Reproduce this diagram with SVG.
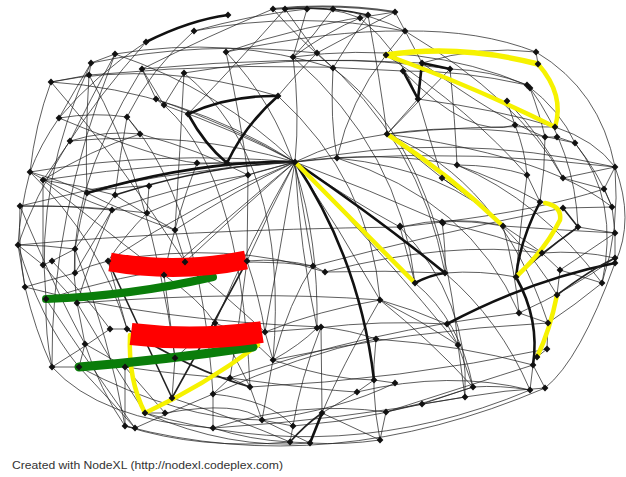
<svg xmlns="http://www.w3.org/2000/svg" xmlns:xlink="http://www.w3.org/1999/xlink" width="626" height="477" viewBox="0 0 626 477">
<style>
.e{fill:none;stroke:#1e1e1e;stroke-width:0.85;stroke-opacity:0.85}
.t{fill:none;stroke:#111;stroke-width:2.6}
.m{fill:none;stroke:#222;stroke-width:1.6}
.y{fill:none;stroke:#f6f200;stroke-width:4.5;stroke-linecap:round}
.r{fill:none;stroke:#ff0000;stroke-linecap:butt}
.g{fill:none;stroke:#0a7d0a;stroke-linecap:round}
.n{fill:#111}
text{font-family:"Liberation Sans",Arial,sans-serif;font-size:11px;fill:#333}
</style>
<defs>
<path id="d" d="M0 -3.4L3.4 0 0 3.4-3.4 0Z"/>
</defs>
<rect width="626" height="477" fill="#fff"/>
<g id="connectors">
<g id="thin">
<path class="e" d="M194 31Q300 10 405 31"/>
<path class="e" d="M285 9Q330 5 360 18"/>
<path class="e" d="M333 9Q375 15 405 31"/>
<path class="e" d="M307 9L293 57"/>
<path class="e" d="M273 9Q300 40 333 68"/>
<path class="e" d="M285 9Q300 30 317 53"/>
<path class="e" d="M360 18Q330 30 293 57"/>
<path class="e" d="M368 15Q350 40 333 68"/>
<path class="e" d="M395 12Q360 30 317 53"/>
<path class="e" d="M333 9Q315 35 293 57"/>
<path class="e" d="M333 68Q330 120 337 158"/>
<path class="e" d="M293 57Q300 110 295 162"/>
<path class="e" d="M317 53Q300 70 278 96"/>
<path class="e" d="M405 31Q480 30 536 52"/>
<path class="e" d="M395 12Q300 25 226 52"/>
<path class="e" d="M307 9Q250 15 194 31"/>
<path class="e" d="M273 9Q210 35 142 69"/>
<path class="e" d="M285 9Q240 60 188 114"/>
<path class="e" d="M368 15Q380 80 387 134"/>
<path class="e" d="M360 18Q400 50 418 99"/>
<path class="e" d="M293 57Q420 40 527 85"/>
<path class="e" d="M115 54Q230 35 333 68"/>
<path class="e" d="M91 63Q200 40 317 53"/>
<path class="e" d="M51 82Q160 60 278 96"/>
<path class="e" d="M184 73Q320 50 450 69"/>
<path class="e" d="M89 75Q250 60 403 71"/>
<path class="e" d="M142 69Q290 55 422 63"/>
<path class="e" d="M226 52Q330 30 405 31"/>
<path class="e" d="M115 54L91 63"/>
<path class="e" d="M91 63L89 75"/>
<path class="e" d="M89 75L51 82"/>
<path class="e" d="M91 63Q75 90 59 118"/>
<path class="e" d="M115 54Q90 100 70 141"/>
<path class="e" d="M89 75Q85 140 87 193"/>
<path class="e" d="M59 118Q95 112 127 117"/>
<path class="e" d="M127 117L140 134"/>
<path class="e" d="M70 141Q105 130 140 134"/>
<path class="e" d="M59 118Q40 145 30 172"/>
<path class="e" d="M70 141L43 180"/>
<path class="e" d="M30 172Q60 180 87 193"/>
<path class="e" d="M43 180Q80 185 115 195"/>
<path class="e" d="M30 172Q70 195 112 210"/>
<path class="e" d="M20 206Q65 205 112 210"/>
<path class="e" d="M20 206Q85 205 147 213"/>
<path class="e" d="M149 186Q120 186 87 193"/>
<path class="e" d="M149 186L147 213"/>
<path class="e" d="M87 193Q130 215 175 230"/>
<path class="e" d="M115 195Q145 215 175 230"/>
<path class="e" d="M140 134Q90 150 43 180"/>
<path class="e" d="M127 117Q120 155 115 195"/>
<path class="e" d="M142 69L164 105"/>
<path class="e" d="M184 73L164 105"/>
<path class="e" d="M142 69L156 99"/>
<path class="e" d="M156 99Q230 125 295 162"/>
<path class="e" d="M164 105Q235 130 295 162"/>
<path class="e" d="M226 52Q240 115 248 175"/>
<path class="e" d="M184 73Q180 150 175 230"/>
<path class="e" d="M194 31Q150 70 127 117"/>
<path class="e" d="M146 42Q95 75 59 118"/>
<path class="e" d="M51 82Q35 125 30 172"/>
<path class="e" d="M51 82Q180 90 295 162"/>
<path class="e" d="M115 54Q220 90 295 162"/>
<path class="e" d="M70 141Q190 130 295 162"/>
<path class="e" d="M140 134Q200 150 248 175"/>
<path class="e" d="M30 172Q160 150 295 162"/>
<path class="e" d="M43 180Q170 160 295 162"/>
<path class="e" d="M20 206Q160 170 295 162"/>
<path class="e" d="M147 213Q220 180 295 162"/>
<path class="e" d="M175 230Q235 190 295 162"/>
<path class="e" d="M112 210Q180 185 248 175"/>
<path class="e" d="M227 163L197 163"/>
<path class="e" d="M295 162L248 175"/>
<path class="e" d="M295 162L337 158"/>
<path class="e" d="M295 162Q380 150 457 165"/>
<path class="e" d="M295 162Q450 130 615 167"/>
<path class="e" d="M295 162Q340 140 387 134"/>
<path class="e" d="M295 162Q370 190 442 222"/>
<path class="e" d="M295 162Q350 200 400 227"/>
<path class="e" d="M295 162Q340 230 380 300"/>
<path class="e" d="M295 162L313 266"/>
<path class="e" d="M295 162Q300 250 317 328"/>
<path class="e" d="M295 162Q390 260 458 345"/>
<path class="e" d="M295 162Q270 210 247 261"/>
<path class="e" d="M295 162Q240 210 185 262"/>
<path class="e" d="M295 162Q230 215 164 275"/>
<path class="e" d="M295 162Q200 200 108 261"/>
<path class="e" d="M295 162Q250 240 215 323"/>
<path class="e" d="M295 162Q280 250 265 332"/>
<path class="e" d="M403 71Q460 70 527 85"/>
<path class="e" d="M450 69Q490 70 527 85"/>
<path class="e" d="M536 52L538 64"/>
<path class="e" d="M527 85L530 88"/>
<path class="e" d="M530 88Q540 115 545 137"/>
<path class="e" d="M527 85Q560 110 575 143"/>
<path class="e" d="M507 101L515 125"/>
<path class="e" d="M545 137L557 137"/>
<path class="e" d="M557 137L575 143"/>
<path class="e" d="M387 134Q480 120 575 143"/>
<path class="e" d="M387 134Q470 125 555 127"/>
<path class="e" d="M387 134L418 99"/>
<path class="e" d="M387 134Q420 100 450 69"/>
<path class="e" d="M387 134L442 178"/>
<path class="e" d="M418 99Q430 140 442 178"/>
<path class="e" d="M450 69Q455 120 457 165"/>
<path class="e" d="M337 158Q480 150 615 167"/>
<path class="e" d="M457 165Q495 165 527 175"/>
<path class="e" d="M457 165Q500 180 540 202"/>
<path class="e" d="M442 178Q475 200 503 226"/>
<path class="e" d="M527 175L540 202"/>
<path class="e" d="M563 178L615 167"/>
<path class="e" d="M563 178L604 189"/>
<path class="e" d="M615 167L604 189"/>
<path class="e" d="M604 189L612 207"/>
<path class="e" d="M563 208L612 207"/>
<path class="e" d="M612 207L615 233"/>
<path class="e" d="M578 227L615 233"/>
<path class="e" d="M515 125Q525 150 527 175"/>
<path class="e" d="M507 101Q545 140 563 178"/>
<path class="e" d="M555 127Q595 140 615 167"/>
<path class="e" d="M575 143Q600 175 612 207"/>
<path class="e" d="M545 137Q545 170 540 202"/>
<path class="e" d="M530 88Q575 150 578 227"/>
<path class="e" d="M386 55Q350 100 337 158"/>
<path class="e" d="M405 31L386 55"/>
<path class="e" d="M395 12Q410 40 422 63"/>
<path class="e" d="M422 63Q480 45 536 52"/>
<path class="e" d="M442 222Q470 220 503 226"/>
<path class="e" d="M400 227L442 222"/>
<path class="e" d="M400 227L415 283"/>
<path class="e" d="M442 222Q446 250 445 273"/>
<path class="e" d="M443 223Q500 235 542 253"/>
<path class="e" d="M503 226Q515 270 519 313"/>
<path class="e" d="M400 227Q450 215 502 225"/>
<path class="e" d="M527 175Q520 230 516 277"/>
<path class="e" d="M615 258L615 263"/>
<path class="e" d="M602 283L560 270"/>
<path class="e" d="M542 253L560 270"/>
<path class="e" d="M542 253Q580 250 615 258"/>
<path class="e" d="M560 270L557 295"/>
<path class="e" d="M519 313L548 323"/>
<path class="e" d="M548 323L547 349"/>
<path class="e" d="M547 349L537 357"/>
<path class="e" d="M533 365L530 390"/>
<path class="e" d="M533 365L545 388"/>
<path class="e" d="M445 273Q480 270 516 277"/>
<path class="e" d="M325 272Q385 270 445 273"/>
<path class="e" d="M313 266L325 272"/>
<path class="e" d="M380 300Q415 310 447 324"/>
<path class="e" d="M380 300Q420 320 458 345"/>
<path class="e" d="M380 300Q430 340 473 387"/>
<path class="e" d="M447 324L458 345"/>
<path class="e" d="M376 339Q460 345 533 365"/>
<path class="e" d="M321 327Q350 330 376 339"/>
<path class="e" d="M458 345L465 397"/>
<path class="e" d="M458 345L473 387"/>
<path class="e" d="M374 380L395 383"/>
<path class="e" d="M357 392L374 380"/>
<path class="e" d="M357 392Q450 370 530 390"/>
<path class="e" d="M473 387Q500 385 530 390"/>
<path class="e" d="M465 397Q505 390 545 388"/>
<path class="e" d="M422 404L473 387"/>
<path class="e" d="M422 404L465 397"/>
<path class="e" d="M386 412L422 404"/>
<path class="e" d="M386 412Q470 385 533 365"/>
<path class="e" d="M322 413L357 392"/>
<path class="e" d="M380 440L322 413"/>
<path class="e" d="M380 440L386 412"/>
<path class="e" d="M321 327L322 413"/>
<path class="e" d="M615 258Q570 290 519 313"/>
<path class="e" d="M602 283Q575 305 548 323"/>
<path class="e" d="M615 233L615 263"/>
<path class="e" d="M578 227L542 253"/>
<path class="e" d="M615 233Q590 250 560 270"/>
<path class="e" d="M502 225Q525 240 542 253"/>
<path class="e" d="M615 167Q620 230 602 283"/>
<path class="e" d="M563 178Q590 190 612 207"/>
<path class="e" d="M145 413Q340 470 530 390"/>
<path class="e" d="M125 426Q330 480 545 388"/>
<path class="e" d="M213 428Q340 420 465 397"/>
<path class="e" d="M293 426Q380 420 473 387"/>
<path class="e" d="M250 387Q400 380 547 349"/>
<path class="e" d="M273 360Q410 330 548 323"/>
<path class="e" d="M230 378Q370 330 519 313"/>
<path class="e" d="M265 332Q320 310 380 300"/>
<path class="e" d="M317 328Q380 320 447 324"/>
<path class="e" d="M213 394Q300 355 376 339"/>
<path class="e" d="M18 245Q45 245 75 249"/>
<path class="e" d="M18 245L43 265"/>
<path class="e" d="M18 245L25 287"/>
<path class="e" d="M43 265L52 261"/>
<path class="e" d="M52 261L75 249"/>
<path class="e" d="M75 249L75 273"/>
<path class="e" d="M75 273Q90 265 108 261"/>
<path class="e" d="M25 287Q50 280 75 273"/>
<path class="e" d="M43 265Q60 285 77 303"/>
<path class="e" d="M77 303L85 344"/>
<path class="e" d="M110 329L127 329"/>
<path class="e" d="M110 329Q80 350 52 367"/>
<path class="e" d="M85 344L79 367"/>
<path class="e" d="M85 344Q105 355 125 367"/>
<path class="e" d="M172 398L175 358"/>
<path class="e" d="M175 358Q195 340 215 323"/>
<path class="e" d="M125 367Q145 390 165 413"/>
<path class="e" d="M165 413L145 413"/>
<path class="e" d="M125 426L135 428"/>
<path class="e" d="M125 426L125 367"/>
<path class="e" d="M135 428Q175 410 213 394"/>
<path class="e" d="M213 394L230 378"/>
<path class="e" d="M230 378L250 387"/>
<path class="e" d="M250 387Q235 355 215 323"/>
<path class="e" d="M213 428L213 394"/>
<path class="e" d="M262 420L293 426"/>
<path class="e" d="M293 426L290 442"/>
<path class="e" d="M290 442L310 443"/>
<path class="e" d="M262 420L273 360"/>
<path class="e" d="M273 360L265 332"/>
<path class="e" d="M265 332L317 328"/>
<path class="e" d="M317 328Q300 345 273 360"/>
<path class="e" d="M313 266Q280 258 247 261"/>
<path class="e" d="M52 367L79 367"/>
<path class="e" d="M52 367Q35 330 25 287"/>
<path class="e" d="M46 299Q45 335 52 367"/>
<path class="e" d="M77 303Q110 360 145 413"/>
<path class="e" d="M85 344Q100 390 125 426"/>
<path class="e" d="M164 275L185 262"/>
<path class="e" d="M164 275Q170 320 175 358"/>
<path class="e" d="M52 261Q85 295 110 329"/>
<path class="e" d="M75 249Q80 220 87 193"/>
<path class="e" d="M75 273Q95 240 112 210"/>
<path class="e" d="M43 180L43 265"/>
<path class="e" d="M30 172Q20 210 18 245"/>
<path class="e" d="M20 206Q18 250 25 287"/>
<path class="e" d="M175 230L185 262"/>
<path class="e" d="M147 213Q125 235 108 261"/>
<path class="e" d="M248 175L247 261"/>
<path class="e" d="M197 163Q175 220 164 275"/>
<path class="e" d="M115 195Q95 220 75 249"/>
<path class="e" d="M112 210Q90 260 77 303"/>
<path class="e" d="M247 261Q260 300 265 332"/>
<path class="e" d="M215 323Q250 335 273 360"/>
<path class="e" d="M125 367Q180 375 230 378"/>
<path class="e" d="M79 367Q110 400 135 428"/>
<path class="e" d="M250 387L262 420"/>
<path class="e" d="M262 420L310 443"/>
<path class="e" d="M310 443Q345 445 380 440"/>
<path class="e" d="M290 442Q250 440 213 428"/>
<path class="e" d="M125 426Q200 450 290 442"/>
<path class="e" d="M145 413Q230 450 310 443"/>
<path class="e" d="M91 63Q35 180 46 299"/>
<path class="e" d="M146 42Q50 150 18 245"/>
<path class="e" d="M142 69Q60 200 77 303"/>
<path class="e" d="M115 54Q50 220 52 367"/>
<path class="e" d="M536 52Q600 90 615 167"/>
<path class="e" d="M615 167Q635 220 615 263"/>
<path class="e" d="M575 143Q620 200 602 283"/>
<path class="e" d="M615 263Q580 360 545 388"/>
<path class="e" d="M127 329L108 261"/>
<path class="e" d="M164 275Q200 300 215 323"/>
<path class="e" d="M185 262Q230 300 265 332"/>
<path class="e" d="M247 261Q240 320 230 378"/>
<path class="e" d="M313 266Q290 300 273 360"/>
<path class="e" d="M321 327Q300 380 293 426"/>
<path class="e" d="M380 300Q340 370 322 413"/>
<path class="e" d="M376 339Q370 390 380 440"/>
<path class="e" d="M415 283Q460 320 473 387"/>
<path class="e" d="M445 273Q500 320 530 390"/>
<path class="e" d="M400 227Q470 300 465 397"/>
<path class="e" d="M442 178Q520 230 557 295"/>
<path class="e" d="M457 165Q540 200 602 283"/>
<path class="e" d="M387 134Q500 180 548 323"/>
<path class="e" d="M337 158Q470 200 519 313"/>
<path class="e" d="M503 226Q560 230 615 233"/>
<path class="e" d="M442 222Q540 210 604 189"/>
<path class="e" d="M325 272Q450 240 542 253"/>
<path class="e" d="M313 266Q450 230 563 208"/>
<path class="e" d="M108 261Q230 240 325 272"/>
<path class="e" d="M46 299Q200 250 313 266"/>
<path class="e" d="M77 303Q250 290 380 300"/>
<path class="e" d="M18 245Q180 230 400 227"/>
<path class="e" d="M25 287Q150 320 321 327"/>
<path class="e" d="M59 118Q160 160 197 163"/>
<path class="e" d="M43 180Q130 250 164 275"/>
<path class="e" d="M30 172Q100 240 127 329"/>
<path class="e" d="M51 82Q120 160 185 262"/>
<path class="e" d="M89 75Q150 180 175 358"/>
<path class="e" d="M127 117Q200 200 213 394"/>
<path class="e" d="M156 99Q240 160 250 387"/>
<path class="e" d="M184 73Q290 160 273 360"/>
<path class="e" d="M226 52Q320 150 317 328"/>
<path class="e" d="M278 96Q370 180 380 300"/>
<path class="e" d="M317 53Q420 140 445 273"/>
<path class="e" d="M333 68Q440 150 458 345"/>
<path class="e" d="M293 57Q400 150 415 283"/>
<path class="e" d="M405 31Q520 100 563 178"/>
<path class="e" d="M386 55Q470 110 527 175"/>
<path class="e" d="M422 63Q500 120 545 137"/>
<path class="e" d="M418 99Q500 110 555 127"/>
<path class="e" d="M403 71Q470 140 515 125"/>
<path class="e" d="M387 134Q500 150 563 178"/>
<path class="e" d="M337 158Q450 170 503 226"/>
<path class="e" d="M20 206Q60 300 85 344"/>
<path class="e" d="M18 245Q40 320 79 367"/>
<path class="e" d="M75 249Q110 340 125 426"/>
<path class="e" d="M46 299Q100 380 135 428"/>
<path class="e" d="M52 367Q100 420 213 428"/>
<path class="e" d="M79 367Q180 420 262 420"/>
<path class="e" d="M172 398Q240 420 290 442"/>
<path class="e" d="M165 413Q240 400 262 420"/>
<path class="e" d="M213 394Q270 400 293 426"/>
<path class="e" d="M230 378Q320 390 357 392"/>
<path class="e" d="M273 360Q330 380 374 380"/>
<path class="e" d="M213 428Q300 400 386 412"/>
<path class="e" d="M262 420Q340 410 395 383"/>
</g>
<g id="thick">
<path class="t" d="M146 42Q190 20 228 15"/>
<path class="t" d="M273 9Q335 3 395 12" style="stroke:#555;stroke-width:2"/>
<path class="m" d="M285 9Q330 6 368 15"/>
<path class="t" d="M188 114Q230 95 278 96"/>
<path class="t" d="M188 114Q205 145 227 163"/>
<path class="t" d="M227 163Q245 125 278 96"/>
<path class="t" d="M87 193Q200 160 295 162"/>
<path class="m" d="M115 195Q210 165 295 162"/>
<path class="t" d="M295 162Q360 260 374 380"/>
<path class="t" d="M295 162Q380 220 445 273"/>
<path class="t" d="M415 283Q430 275 445 273"/>
<path class="t" d="M615 263Q530 280 447 324"/>
<path class="t" d="M540 202Q520 240 516 277"/>
<path class="t" d="M516 277Q540 320 533 365"/>
<path class="m" d="M563 208L578 227Q545 250 516 277"/>
<path class="t" d="M422 63L418 99"/>
<path class="t" d="M403 71L418 99"/>
<path class="t" d="M422 63L450 69"/>
<path class="m" d="M108 261Q140 330 172 398"/>
<path class="m" d="M247 261Q210 330 172 398"/>
<path class="m" d="M127 329Q190 370 250 387"/>
<path class="t" d="M310 443L322 413"/>
<path class="m" d="M290 442Q305 425 322 413"/>
<path class="m" d="M557 295Q590 270 615 258"/>
</g>
<g id="colored">
<path class="y" d="M386 55Q460 44 538 64" style="stroke-width:5.5"/>
<path class="y" d="M386 55Q470 85 555 127"/>
<path class="y" d="M538 64Q565 95 555 127"/>
<path class="y" d="M387 134Q450 175 503 226"/>
<path class="y" d="M297 164Q360 228 413 281"/>
<path class="y" d="M545 203Q562 206 560 220Q545 250 516 277"/>
<path class="y" d="M557 295Q550 330 537 357"/>
<path class="y" d="M130 335Q128 380 145 413"/>
<path class="y" d="M145 413Q205 385 258 345"/>
<path class="g" d="M46 299Q130 296 213 277" style="stroke-width:8"/>
<path class="g" d="M79 367Q165 360 253 347" style="stroke-width:9"/>
<path class="r" d="M110 262Q178 274 246 260" style="stroke-width:19"/>
<path class="r" d="M131 334Q197 342 262 332" style="stroke-width:22"/>
</g>
</g>
<g id="nodes" class="n">
<g id="A1"><use xlink:href="#d" x="228" y="15"/></g>
<g id="A2"><use xlink:href="#d" x="194" y="31"/></g>
<g id="A3"><use xlink:href="#d" x="146" y="42"/></g>
<g id="A4"><use xlink:href="#d" x="226" y="52"/></g>
<g id="A5"><use xlink:href="#d" x="115" y="54"/></g>
<g id="A6"><use xlink:href="#d" x="91" y="63"/></g>
<g id="A7"><use xlink:href="#d" x="89" y="75"/></g>
<g id="A8"><use xlink:href="#d" x="142" y="69"/></g>
<g id="A9"><use xlink:href="#d" x="184" y="73"/></g>
<g id="A10"><use xlink:href="#d" x="51" y="82"/></g>
<g id="A11"><use xlink:href="#d" x="156" y="99"/></g>
<g id="A12"><use xlink:href="#d" x="164" y="105"/></g>
<g id="A13"><use xlink:href="#d" x="188" y="114"/></g>
<g id="A14"><use xlink:href="#d" x="278" y="96"/></g>
<g id="A15"><use xlink:href="#d" x="59" y="118"/></g>
<g id="A16"><use xlink:href="#d" x="127" y="117"/></g>
<g id="A17"><use xlink:href="#d" x="140" y="134"/></g>
<g id="A18"><use xlink:href="#d" x="70" y="141"/></g>
<g id="A19"><use xlink:href="#d" x="197" y="163"/></g>
<g id="A20"><use xlink:href="#d" x="227" y="163"/></g>
<g id="H"><use xlink:href="#d" x="295" y="162"/></g>
<g id="A22"><use xlink:href="#d" x="30" y="172"/></g>
<g id="A23"><use xlink:href="#d" x="43" y="180"/></g>
<g id="A24"><use xlink:href="#d" x="248" y="175"/></g>
<g id="A25"><use xlink:href="#d" x="149" y="186"/></g>
<g id="A26"><use xlink:href="#d" x="87" y="193"/></g>
<g id="A27"><use xlink:href="#d" x="115" y="195"/></g>
<g id="A28"><use xlink:href="#d" x="20" y="206"/></g>
<g id="A29"><use xlink:href="#d" x="112" y="210"/></g>
<g id="A30"><use xlink:href="#d" x="147" y="213"/></g>
<g id="A31"><use xlink:href="#d" x="175" y="230"/></g>
<g id="T1"><use xlink:href="#d" x="273" y="9"/></g>
<g id="T2"><use xlink:href="#d" x="285" y="9"/></g>
<g id="T3"><use xlink:href="#d" x="307" y="9"/></g>
<g id="T4"><use xlink:href="#d" x="333" y="9"/></g>
<g id="T5"><use xlink:href="#d" x="360" y="18"/></g>
<g id="T6"><use xlink:href="#d" x="368" y="15"/></g>
<g id="T7"><use xlink:href="#d" x="395" y="12"/></g>
<g id="T8"><use xlink:href="#d" x="405" y="31"/></g>
<g id="T9"><use xlink:href="#d" x="293" y="57"/></g>
<g id="T10"><use xlink:href="#d" x="317" y="53"/></g>
<g id="T11"><use xlink:href="#d" x="333" y="68"/></g>
<g id="R1"><use xlink:href="#d" x="386" y="55"/></g>
<g id="R2"><use xlink:href="#d" x="422" y="63"/></g>
<g id="R3"><use xlink:href="#d" x="403" y="71"/></g>
<g id="R4"><use xlink:href="#d" x="450" y="69"/></g>
<g id="R5"><use xlink:href="#d" x="418" y="99"/></g>
<g id="R6"><use xlink:href="#d" x="536" y="52"/></g>
<g id="R7"><use xlink:href="#d" x="538" y="64"/></g>
<g id="R8"><use xlink:href="#d" x="527" y="85"/></g>
<g id="R9"><use xlink:href="#d" x="530" y="88"/></g>
<g id="R10"><use xlink:href="#d" x="507" y="101"/></g>
<g id="R11"><use xlink:href="#d" x="515" y="125"/></g>
<g id="R12"><use xlink:href="#d" x="555" y="127"/></g>
<g id="R13"><use xlink:href="#d" x="545" y="137"/></g>
<g id="R14"><use xlink:href="#d" x="557" y="137"/></g>
<g id="R15"><use xlink:href="#d" x="575" y="143"/></g>
<g id="R16"><use xlink:href="#d" x="387" y="134"/></g>
<g id="R17"><use xlink:href="#d" x="337" y="158"/></g>
<g id="R18"><use xlink:href="#d" x="457" y="165"/></g>
<g id="R19"><use xlink:href="#d" x="442" y="178"/></g>
<g id="R20"><use xlink:href="#d" x="527" y="175"/></g>
<g id="R21"><use xlink:href="#d" x="563" y="178"/></g>
<g id="R22"><use xlink:href="#d" x="615" y="167"/></g>
<g id="R23"><use xlink:href="#d" x="604" y="189"/></g>
<g id="R24"><use xlink:href="#d" x="540" y="202"/></g>
<g id="R25"><use xlink:href="#d" x="563" y="208"/></g>
<g id="R26"><use xlink:href="#d" x="612" y="207"/></g>
<g id="R27"><use xlink:href="#d" x="503" y="226"/></g>
<g id="R28"><use xlink:href="#d" x="442" y="222"/></g>
<g id="R29"><use xlink:href="#d" x="400" y="227"/></g>
<g id="R30"><use xlink:href="#d" x="615" y="233"/></g>
<g id="R31"><use xlink:href="#d" x="578" y="227"/></g>
<g id="L1"><use xlink:href="#d" x="18" y="245"/></g>
<g id="L2"><use xlink:href="#d" x="43" y="265"/></g>
<g id="L3"><use xlink:href="#d" x="52" y="261"/></g>
<g id="L4"><use xlink:href="#d" x="75" y="249"/></g>
<g id="L5"><use xlink:href="#d" x="75" y="273"/></g>
<g id="L6"><use xlink:href="#d" x="25" y="287"/></g>
<g id="L7"><use xlink:href="#d" x="108" y="261"/></g>
<g id="L8"><use xlink:href="#d" x="185" y="262"/></g>
<g id="L9"><use xlink:href="#d" x="164" y="275"/></g>
<g id="L10"><use xlink:href="#d" x="247" y="261"/></g>
<g id="L11"><use xlink:href="#d" x="46" y="299"/></g>
<g id="L12"><use xlink:href="#d" x="77" y="303"/></g>
<g id="L13"><use xlink:href="#d" x="313" y="266"/></g>
<g id="L14"><use xlink:href="#d" x="110" y="329"/></g>
<g id="L15"><use xlink:href="#d" x="127" y="329"/></g>
<g id="L16"><use xlink:href="#d" x="215" y="323"/></g>
<g id="L17"><use xlink:href="#d" x="265" y="332"/></g>
<g id="L18"><use xlink:href="#d" x="85" y="344"/></g>
<g id="L19"><use xlink:href="#d" x="52" y="367"/></g>
<g id="L20"><use xlink:href="#d" x="79" y="367"/></g>
<g id="L21"><use xlink:href="#d" x="125" y="367"/></g>
<g id="L22"><use xlink:href="#d" x="175" y="358"/></g>
<g id="L23"><use xlink:href="#d" x="273" y="360"/></g>
<g id="L24"><use xlink:href="#d" x="317" y="328"/></g>
<g id="L25"><use xlink:href="#d" x="230" y="378"/></g>
<g id="L26"><use xlink:href="#d" x="250" y="387"/></g>
<g id="L27"><use xlink:href="#d" x="213" y="394"/></g>
<g id="L28"><use xlink:href="#d" x="172" y="398"/></g>
<g id="L29"><use xlink:href="#d" x="145" y="413"/></g>
<g id="L30"><use xlink:href="#d" x="165" y="413"/></g>
<g id="L31"><use xlink:href="#d" x="125" y="426"/></g>
<g id="L32"><use xlink:href="#d" x="135" y="428"/></g>
<g id="L33"><use xlink:href="#d" x="213" y="428"/></g>
<g id="L34"><use xlink:href="#d" x="262" y="420"/></g>
<g id="L35"><use xlink:href="#d" x="293" y="426"/></g>
<g id="L36"><use xlink:href="#d" x="290" y="442"/></g>
<g id="L37"><use xlink:href="#d" x="310" y="443"/></g>
<g id="B1"><use xlink:href="#d" x="400" y="226"/></g>
<g id="B2"><use xlink:href="#d" x="443" y="223"/></g>
<g id="B4"><use xlink:href="#d" x="615" y="258"/></g>
<g id="B5"><use xlink:href="#d" x="615" y="263"/></g>
<g id="B6"><use xlink:href="#d" x="602" y="283"/></g>
<g id="B7"><use xlink:href="#d" x="325" y="272"/></g>
<g id="B8"><use xlink:href="#d" x="445" y="273"/></g>
<g id="B9"><use xlink:href="#d" x="415" y="283"/></g>
<g id="B10"><use xlink:href="#d" x="516" y="277"/></g>
<g id="B11"><use xlink:href="#d" x="542" y="253"/></g>
<g id="B12"><use xlink:href="#d" x="560" y="270"/></g>
<g id="B13"><use xlink:href="#d" x="557" y="295"/></g>
<g id="B14"><use xlink:href="#d" x="519" y="313"/></g>
<g id="B15"><use xlink:href="#d" x="380" y="300"/></g>
<g id="B16"><use xlink:href="#d" x="447" y="324"/></g>
<g id="B17"><use xlink:href="#d" x="548" y="323"/></g>
<g id="B18"><use xlink:href="#d" x="321" y="327"/></g>
<g id="B19"><use xlink:href="#d" x="376" y="339"/></g>
<g id="B20"><use xlink:href="#d" x="458" y="345"/></g>
<g id="B21"><use xlink:href="#d" x="547" y="349"/></g>
<g id="B22"><use xlink:href="#d" x="537" y="357"/></g>
<g id="B23"><use xlink:href="#d" x="533" y="365"/></g>
<g id="B24"><use xlink:href="#d" x="374" y="380"/></g>
<g id="B25"><use xlink:href="#d" x="395" y="383"/></g>
<g id="B26"><use xlink:href="#d" x="357" y="392"/></g>
<g id="B27"><use xlink:href="#d" x="473" y="387"/></g>
<g id="B28"><use xlink:href="#d" x="465" y="397"/></g>
<g id="B29"><use xlink:href="#d" x="530" y="390"/></g>
<g id="B30"><use xlink:href="#d" x="545" y="388"/></g>
<g id="B31"><use xlink:href="#d" x="422" y="404"/></g>
<g id="B32"><use xlink:href="#d" x="386" y="412"/></g>
<g id="B33"><use xlink:href="#d" x="322" y="413"/></g>
<g id="B34"><use xlink:href="#d" x="380" y="440"/></g>
</g>
<text x="12" y="469" textLength="271" lengthAdjust="spacingAndGlyphs">Created with NodeXL (http://nodexl.codeplex.com)</text>
</svg>
